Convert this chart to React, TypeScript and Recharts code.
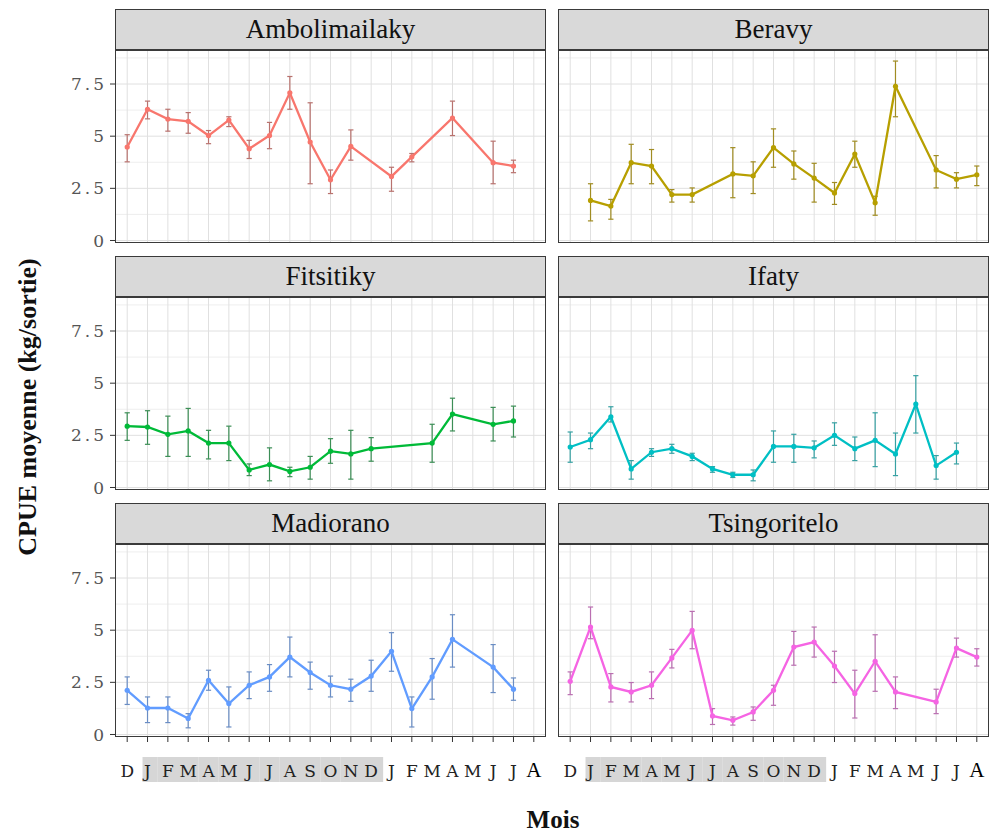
import React from 'react';
import { LineChart, Line, XAxis, YAxis, ErrorBar, ReferenceLine } from 'recharts';

// Month labels, December through the August of the following year
const MONTHS = ['D', 'J', 'F', 'M', 'A', 'M', 'J', 'J', 'A', 'S', 'O', 'N', 'D', 'J', 'F', 'M', 'A', 'M', 'J', 'J', 'A'];
const MONTH_TICKS = MONTHS.map((_, i) => i);
const Y_TICKS = [0, 2.5, 5, 7.5];
const Y_MINOR = [1.25, 3.75, 6.25, 8.75];

// Ambolimailaky
const amboMonth = [0, 1, 2, 3, 4, 5, 6, 7, 8, 9, 10, 11, 13, 14, 16, 18, 19];
const amboMean = [4.48, 6.29, 5.82, 5.71, 5.03, 5.77, 4.4, 5.03, 7.08, 4.72, 2.91, 4.51, 3.07, 4.01, 5.87, 3.73, 3.57];
const amboLow = [3.77, 5.83, 5.24, 5.14, 4.64, 5.46, 3.93, 4.4, 6.29, 2.72, 2.25, 3.85, 2.36, 3.77, 5.03, 2.72, 3.25];
const amboHigh = [5.07, 6.68, 6.29, 6.13, 5.27, 5.93, 4.8, 5.66, 7.86, 6.6, 3.38, 5.3, 3.51, 4.17, 6.68, 4.76, 3.85];

// Beravy
const beraMonth = [1, 2, 3, 4, 5, 6, 8, 9, 10, 11, 12, 13, 14, 15, 16, 18, 19, 20];
const beraMean = [1.92, 1.65, 3.73, 3.57, 2.2, 2.2, 3.19, 3.1, 4.45, 3.67, 2.99, 2.28, 4.14, 1.81, 7.39, 3.38, 2.94, 3.15];
const beraLow = [0.94, 1.02, 2.72, 2.72, 1.84, 1.84, 2.05, 2.25, 3.51, 2.94, 1.84, 1.73, 3.51, 1.21, 5.93, 2.52, 2.52, 2.63];
const beraHigh = [2.72, 1.97, 4.61, 4.36, 2.44, 2.52, 4.45, 3.77, 5.35, 4.29, 3.7, 2.78, 4.76, 2.12, 8.6, 4.07, 3.25, 3.57];

// Fitsitiky
const fitsMonth = [0, 1, 2, 3, 4, 5, 6, 7, 8, 9, 10, 11, 12, 15, 16, 18, 19];
const fitsMean = [2.94, 2.9, 2.55, 2.71, 2.13, 2.13, 0.84, 1.1, 0.77, 0.97, 1.74, 1.61, 1.86, 2.13, 3.52, 3.03, 3.19];
const fitsLow = [2.26, 2.07, 1.49, 1.49, 1.37, 1.29, 0.57, 0.32, 0.52, 0.4, 1.16, 0.4, 1.26, 1.21, 2.71, 2.23, 2.42];
const fitsHigh = [3.58, 3.68, 3.42, 3.79, 2.74, 2.94, 1.13, 1.9, 0.97, 1.49, 2.34, 2.74, 2.39, 3.03, 4.28, 3.84, 3.9];

// Ifaty
const ifatMonth = [0, 1, 2, 3, 4, 5, 6, 7, 8, 9, 10, 11, 12, 13, 14, 15, 16, 17, 18, 19];
const ifatMean = [1.94, 2.29, 3.39, 0.89, 1.69, 1.86, 1.49, 0.89, 0.61, 0.61, 1.97, 1.97, 1.9, 2.5, 1.86, 2.26, 1.61, 4.0, 1.05, 1.69];
const ifatLow = [1.21, 1.86, 3.14, 0.4, 1.49, 1.64, 1.29, 0.73, 0.48, 0.32, 1.21, 1.21, 1.42, 2.02, 1.29, 1.0, 0.57, 2.61, 0.4, 1.13];
const ifatHigh = [2.66, 2.61, 3.87, 1.29, 1.86, 2.07, 1.64, 1.0, 0.73, 0.84, 2.71, 2.55, 2.23, 3.1, 2.42, 3.58, 2.61, 5.36, 1.53, 2.13];

// Madiorano
const madiMonth = [0, 1, 2, 3, 4, 5, 6, 7, 8, 9, 10, 11, 12, 13, 14, 15, 16, 18, 19];
const madiMean = [2.12, 1.27, 1.27, 0.77, 2.6, 1.48, 2.36, 2.76, 3.71, 2.97, 2.36, 2.17, 2.8, 3.99, 1.24, 2.76, 4.56, 3.23, 2.17];
const madiLow = [1.44, 0.57, 0.57, 0.32, 2.12, 0.36, 1.72, 2.07, 2.76, 2.17, 1.8, 1.59, 2.07, 3.03, 0.36, 1.69, 3.23, 2.01, 1.64];
const madiHigh = [2.76, 1.8, 1.8, 1.0, 3.08, 2.28, 3.0, 3.35, 4.67, 3.47, 2.8, 2.65, 3.56, 4.88, 1.8, 3.64, 5.74, 4.31, 2.71];

// Tsingoritelo
const tsinMonth = [0, 1, 2, 3, 4, 5, 6, 7, 8, 9, 10, 11, 12, 13, 14, 15, 16, 18, 19, 20];
const tsinMean = [2.55, 5.15, 2.28, 2.04, 2.36, 3.67, 4.99, 0.89, 0.68, 1.08, 2.12, 4.19, 4.43, 3.28, 1.96, 3.51, 2.04, 1.56, 4.14, 3.71];
const tsinLow = [1.91, 4.59, 1.56, 1.56, 1.72, 3.19, 4.11, 0.48, 0.45, 0.68, 1.4, 3.32, 3.71, 2.49, 0.79, 2.07, 1.24, 1.0, 3.71, 3.28];
const tsinHigh = [3.0, 6.11, 2.92, 2.49, 3.0, 4.08, 5.9, 1.24, 0.84, 1.32, 2.36, 4.94, 5.15, 3.99, 3.08, 4.78, 2.76, 2.17, 4.62, 4.11];

const SITES = ['Ambolimailaky', 'Beravy', 'Fitsitiky', 'Ifaty', 'Madiorano', 'Tsingoritelo'];
const COLORS = ['#F8766D', '#B79F00', '#00BA38', '#00BFC4', '#619CFF', '#F564E3'];
const ERR_COLORS = ['#B8726E', '#A08C22', '#3C8E56', '#37A1A3', '#6A8DC4', '#BA6FB1'];

const SERIES = [
  { month: amboMonth, mean: amboMean, low: amboLow, high: amboHigh },
  { month: beraMonth, mean: beraMean, low: beraLow, high: beraHigh },
  { month: fitsMonth, mean: fitsMean, low: fitsLow, high: fitsHigh },
  { month: ifatMonth, mean: ifatMean, low: ifatLow, high: ifatHigh },
  { month: madiMonth, mean: madiMean, low: madiLow, high: madiHigh },
  { month: tsinMonth, mean: tsinMean, low: tsinLow, high: tsinHigh },
];

// Facet geometry
const COL_X = [115, 558];
const ROW_Y = [50, 297, 544];
const PW = 431;
const PH = 193;
const STRIP_H = 41;
const YW = 60;
const XH = 60;
const RM = 4;
const BORDER = '#3A3A3A';
const GRID_MAJOR = '#E0E0E0';
const GRID_MINOR = '#ECECEC';

const MonthTick = (props: any) => {
  const { x, y, payload } = props;
  const i = payload.value as number;
  const last = i === MONTHS.length - 1;
  let rect: React.ReactNode = null;
  if (i >= 1 && i <= 12) {
    const x0 = i === 1 ? x - 5 : x - 10.2;
    const x1 = i === 12 ? x + 12 : x + 10.2;
    rect = <rect x={x0} y={y + 15} width={x1 - x0} height={25} fill="#D6D6D6" />;
  }
  return (
    <g>
      {rect}
      <text
        x={x}
        y={y + 35}
        textAnchor="middle"
        fill={last ? '#000' : '#222'}
        fontFamily={last ? 'Liberation Serif' : 'DejaVu Serif'}
        fontSize={last ? 21 : 17}
      >
        {MONTHS[i]}
      </text>
    </g>
  );
};

function Panel({ idx }: { idx: number }) {
  const col = idx % 2;
  const row = Math.floor(idx / 2);
  const px = COL_X[col];
  const py = ROW_Y[row];
  const showY = col === 0;
  const showX = row === 2;
  const s = SERIES[idx];
  const data = s.month.map((m, i) => ({
    m,
    v: s.mean[i],
    e: [s.mean[i] - s.low[i], s.high[i] - s.mean[i]],
  }));
  const color = COLORS[idx];

  return (
    <>
      <div
        style={{
          position: 'absolute',
          left: px,
          top: py - STRIP_H,
          width: PW,
          height: STRIP_H,
          boxSizing: 'border-box',
          background: '#D9D9D9',
          border: `1.5px solid ${BORDER}`,
          fontFamily: 'Liberation Serif',
          fontSize: 27,
          color: '#111',
          display: 'flex',
          alignItems: 'center',
          justifyContent: 'center',
        }}
      >
        {SITES[idx]}
      </div>
      <div style={{ position: 'absolute', left: px - YW, top: py }}>
        <LineChart
          width={YW + PW + RM}
          height={PH + XH}
          data={data}
          margin={{ top: 0, right: RM, bottom: 0, left: 0 }}
        >
          {Y_MINOR.map((v) => (
            <ReferenceLine key={`n${v}`} y={v} stroke={GRID_MINOR} strokeWidth={0.9} />
          ))}
          {Y_TICKS.map((v) => (
            <ReferenceLine key={`y${v}`} y={v} stroke={GRID_MAJOR} strokeWidth={1} />
          ))}
          {MONTH_TICKS.map((v) => (
            <ReferenceLine key={`x${v}`} x={v} stroke={GRID_MAJOR} strokeWidth={1} />
          ))}
          <XAxis
            type="number"
            dataKey="m"
            domain={[-0.6, 20.6]}
            ticks={MONTH_TICKS}
            interval={0}
            allowDataOverflow
            height={XH}
            axisLine={false}
            tickLine={showX ? { stroke: '#333' } : false}
            tickSize={5}
            tickMargin={0}
            tick={showX ? <MonthTick /> : false}
          />
          <YAxis
            type="number"
            domain={[-0.12, 9.13]}
            ticks={Y_TICKS}
            interval={0}
            allowDataOverflow
            width={YW}
            axisLine={false}
            tickLine={showY ? { stroke: '#333' } : false}
            tickSize={5}
            tickMargin={3}
            tick={showY ? { fill: '#555', fontSize: 17, fontFamily: 'DejaVu Serif', letterSpacing: 3 } : false}
            tickFormatter={(v: number) => String(v)}
          />
          <Line
            type="linear"
            dataKey="v"
            stroke={color}
            strokeWidth={2.3}
            dot={{ r: 2.6, fill: color, stroke: color, strokeWidth: 0 }}
            isAnimationActive={false}
          >
            <ErrorBar dataKey="e" direction="y" width={2.6} stroke={ERR_COLORS[idx]} strokeWidth={1.2} />
          </Line>
        </LineChart>
      </div>
      <div
        style={{
          position: 'absolute',
          left: px,
          top: py,
          width: PW,
          height: PH,
          boxSizing: 'border-box',
          border: `1.5px solid ${BORDER}`,
          pointerEvents: 'none',
        }}
      />
    </>
  );
}

export default function App() {
  return (
    <div
      style={{
        position: 'absolute',
        left: 0,
        top: 0,
        width: 991,
        height: 837,
        background: '#fff',
        overflow: 'hidden',
      }}
    >
      {SITES.map((_, i) => (
        <Panel key={i} idx={i} />
      ))}
      <div
        style={{
          position: 'absolute',
          left: 28,
          top: 407,
          transform: 'translate(-50%, -50%) rotate(-90deg)',
          whiteSpace: 'nowrap',
          fontFamily: 'Liberation Serif',
          fontWeight: 'bold',
          fontSize: 26,
          color: '#111',
        }}
      >
        CPUE moyenne (kg/sortie)
      </div>
      <div
        style={{
          position: 'absolute',
          left: 553,
          top: 820,
          transform: 'translate(-50%, -50%)',
          whiteSpace: 'nowrap',
          fontFamily: 'Liberation Serif',
          fontWeight: 'bold',
          fontSize: 25,
          color: '#111',
        }}
      >
        Mois
      </div>
    </div>
  );
}
